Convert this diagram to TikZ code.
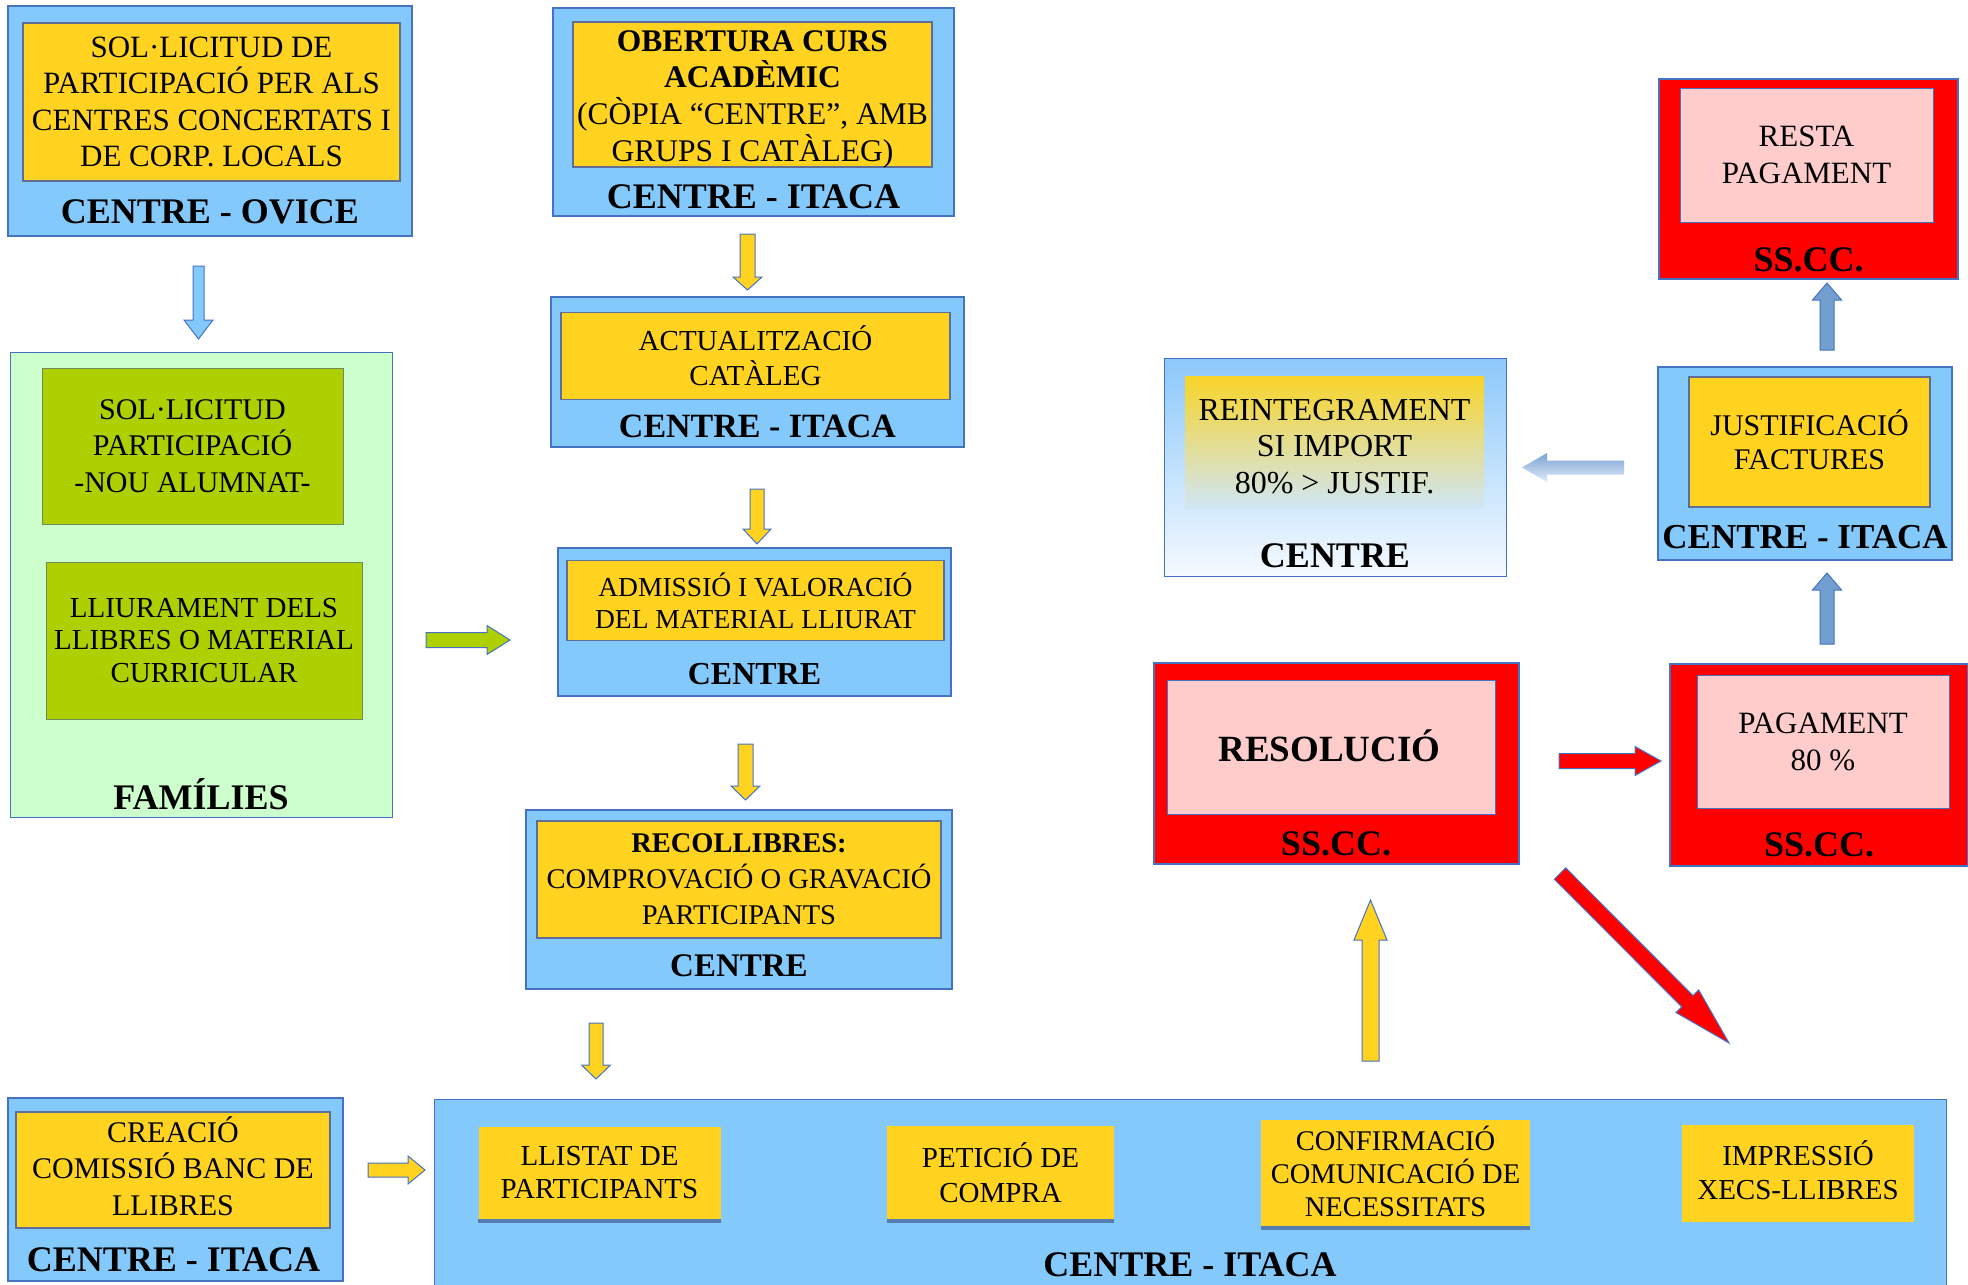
\documentclass[tikz,border=0pt]{standalone}
\usepackage{fontspec}
\setmainfont{Liberation Serif}
\usetikzlibrary{calc}
\definecolor{skyb}{RGB}{131,201,252}
\definecolor{edgeb}{RGB}{70,114,196}
\definecolor{gold}{RGB}{255,211,32}
\definecolor{goldedge}{RGB}{95,110,150}
\definecolor{famgreen}{RGB}{204,255,204}
\definecolor{lime}{RGB}{174,207,0}
\definecolor{limeedge}{RGB}{110,140,90}
\definecolor{redb}{RGB}{255,0,0}
\definecolor{pinkb}{RGB}{255,204,204}
\definecolor{steel}{RGB}{114,159,207}
\definecolor{shadowb}{RGB}{85,125,175}
\newcommand\barrow[6]{%
  \coordinate (ba-h) at ($(#3)!#6!(#2)$);
  \path[#1] ($(#2)!#4!90:(#3)$) -- ($(ba-h)!#4!90:(#3)$) -- ($(ba-h)!#5!90:(#3)$) -- (#3)
    -- ($(ba-h)!#5!-90:(#3)$) -- ($(ba-h)!#4!-90:(#3)$) -- ($(#2)!#4!-90:(#3)$) -- cycle;
}
\tikzset{
  sz/.style 2 args={minimum width=#1pt, minimum height=#2pt},
  f/.style 2 args={font=\fontsize{#1pt}{#2pt}\selectfont},
  outer/.style={draw=edgeb, line width=1.2pt, fill=skyb, inner sep=0pt},
  goldbox/.style={draw=goldedge, line width=1.2pt, fill=gold, inner sep=0pt, align=center},
  goldflat/.style={fill=gold, inner sep=0pt, align=center},
  limebox/.style={draw=limeedge, line width=1pt, fill=lime, inner sep=0pt, align=center},
  redbox/.style={draw=edgeb, line width=1.2pt, fill=redb, inner sep=0pt},
  pinkbox/.style={draw=edgeb, line width=1pt, fill=pinkb, inner sep=0pt, align=center},
  txt/.style={inner sep=0pt, align=center},
  lbl/.style={font=\bfseries\fontsize{#1pt}{#1pt}\selectfont, inner sep=0pt},
  yarr/.style={fill=gold, draw=edgeb, line width=1pt},
  garr/.style={fill=lime, draw=edgeb, line width=1pt},
  barr/.style={fill=skyb, draw=edgeb, line width=1pt},
  rarr/.style={fill=redb, draw=edgeb, line width=1pt},
  sarr/.style={fill=steel, draw=edgeb, line width=1pt},
  shadowline/.style={draw=shadowb, line width=4pt},
}
\begin{document}
\begin{tikzpicture}[x=1pt,y=-1pt]
\useasboundingbox (0,0) rectangle (1968,1285);
\fill[white] (0,0) rectangle (1968,1285);

% CENTRE - OVICE
\node[outer, sz={404}{230}] (ovice) at (210,121) {};
\node[goldbox, sz={377}{158}, f={31}{36.5}] (ovicein) at (211.5,102)
  {SOL·LICITUD DE\\PARTICIPACIÓ PER ALS\\CENTRES CONCERTATS I\\DE CORP. LOCALS};
\node[lbl=36] (ovicelbl) at (210,212) {CENTRE - OVICE};

% OBERTURA
\node[outer, sz={401}{208}] (obert) at (753.5,112) {};
\node[goldbox, sz={359}{145}] (obertin) at (752.5,94.5) {};
\node[txt, f={31.5}{36.7}] (obertxt) at (752.5,99)
  {\textbf{OBERTURA CURS}\\\textbf{ACADÈMIC}\\(CÒPIA “CENTRE”, AMB\\GRUPS I CATÀLEG)};
\node[lbl=36] (obertlbl) at (753.5,197) {CENTRE - ITACA};

% ACTUALITZACIO
\node[outer, sz={413}{150}] (actual) at (757.5,372) {};
\node[goldbox, sz={389}{87}, f={29}{35}] (actualin) at (755.5,356) {ACTUALITZACIÓ\\CATÀLEG};
\node[lbl=34] (actuallbl) at (757.5,426) {CENTRE - ITACA};

% ADMISSIO
\node[outer, sz={393}{148}] (admis) at (754.5,622) {};
\node[goldbox, sz={377}{80}, f={27.5}{32}] (admisin) at (755.5,600.5) {ADMISSIÓ I VALORACIÓ\\DEL MATERIAL LLIURAT};
\node[lbl=32] (admislbl) at (754.5,674) {CENTRE};

% RECOLLIBRES
\node[outer, sz={426}{179}] (recoll) at (739,899.5) {};
\node[goldbox, sz={404}{117}, f={28.5}{36}] (recollin) at (739,879.5)
  {\textbf{RECOLLIBRES:}\\COMPROVACIÓ O GRAVACIÓ\\PARTICIPANTS};
\node[lbl=33] (recolllbl) at (739,966) {CENTRE};

% FAMILIES
\node[draw=edgeb, line width=1pt, fill=famgreen, sz={382}{465}] (fam) at (201,584.5) {};
\node[limebox, sz={301}{156}, f={30}{36.5}] (sol) at (192.5,446) {SOL·LICITUD\\PARTICIPACIÓ\\-NOU ALUMNAT-};
\node[limebox, sz={316}{157}, f={29}{32.5}] (lliur) at (204,640.5) {LLIURAMENT DELS\\LLIBRES O MATERIAL\\CURRICULAR};
\node[lbl=36, anchor=base] (famlbl) at (201,809) {FAMÍLIES};

% REINTEGRAMENT
\node[draw=edgeb, line width=1pt, top color={rgb,255:red,140;green,200;blue,250}, bottom color={rgb,255:red,245;green,250;blue,255}, sz={342}{218}] (reint) at (1335,467) {};
\node[inner sep=0pt, sz={299}{132}, top color={rgb,255:red,248;green,212;blue,40}, middle color={rgb,255:red,214;green,216;blue,150}, bottom color={rgb,255:red,208;green,230;blue,245}] (reintin) at (1334.5,442) {};
\node[txt, f={32}{36.5}] (reinttxt) at (1334.5,446.5) {REINTEGRAMENT\\SI IMPORT\\80\% > JUSTIF.};
\node[lbl=36] (reintlbl) at (1335,556) {CENTRE};

% JUSTIFICACIO
\node[outer, sz={294}{193}] (justif) at (1805,463.5) {};
\node[goldbox, sz={241}{130}] (justifin) at (1809.5,442) {};
\node[txt, f={30}{34}] (justiftxt) at (1809.5,439.5) {JUSTIFICACIÓ\\FACTURES};
\node[lbl=35] (justiflbl) at (1805,537) {CENTRE - ITACA};

% RESTA PAGAMENT
\node[redbox, sz={299}{200}] (resta) at (1808.5,179) {};
\node[pinkbox, sz={253}{134}, f={31}{37}] (restain) at (1806.5,155) {RESTA\\PAGAMENT};
\node[lbl=36] (restalbl) at (1808.5,260) {SS.CC.};

% PAGAMENT 80
\node[redbox, sz={298}{202}] (pag) at (1819,765) {};
\node[pinkbox, sz={252}{133}, f={31}{37}] (pagin) at (1823,741.5) {PAGAMENT\\80 \%};
\node[lbl=36] (paglbl) at (1819,845) {SS.CC.};

% RESOLUCIO
\node[redbox, sz={365}{201}] (resol) at (1336.5,763.5) {};
\node[pinkbox, sz={328}{134}] (resolin) at (1331,747) {};
\node[lbl=37, anchor=base] (resoltxt) at (1329.5,761) {RESOLUCIÓ};
\node[lbl=36] (resollbl) at (1336,844) {SS.CC.};

% CREACIO
\node[outer, sz={335}{183}] (creacio) at (175.5,1189.5) {};
\node[goldbox, sz={314}{116}] (creacioin) at (173,1170) {};
\node[txt, f={30}{36.5}] (creaciotxt) at (173,1166) {CREACIÓ\\COMISSIÓ BANC DE\\LLIBRES};
\node[lbl=36] (creaciolbl) at (173.5,1260) {CENTRE - ITACA};

% BOTTOM CENTRE - ITACA
\node[outer, sz={1512}{192}, anchor=north west] (itaca) at (434,1099) {};
\node[lbl=36] (itacalbl) at (1190,1265) {CENTRE - ITACA};
\node[goldflat, sz={242}{92}, f={29}{33}] (llistat) at (599.5,1173) {LLISTAT DE\\PARTICIPANTS};
\draw[shadowline] ([yshift=-2pt]llistat.south west) -- ([yshift=-2pt]llistat.south east);
\node[goldflat, sz={227}{93}, f={29}{35}] (peticio) at (1000.5,1172.5) {PETICIÓ DE\\COMPRA};
\draw[shadowline] ([yshift=-2pt]peticio.south west) -- ([yshift=-2pt]peticio.south east);
\node[goldflat, sz={269}{106}] (confirm) at (1395.5,1173) {};
\node[txt, f={28.5}{33}] (confirmtxt) at (1395.5,1171) {CONFIRMACIÓ\\COMUNICACIÓ DE\\NECESSITATS};
\draw[shadowline] ([yshift=-2pt]confirm.south west) -- ([yshift=-2pt]confirm.south east);
\node[goldflat, sz={232}{97}] (impres) at (1798,1173.5) {};
\node[txt, f={29}{34}] (imprestxt) at (1798,1170) {IMPRESSIÓ\\XECS-LLIBRES};

% ARROWS
\coordinate (a1s) at (198.5,266); \coordinate (a1e) at (198.5,339);
\barrow{barr}{a1s}{a1e}{5.5pt}{14.5pt}{19pt}
\coordinate (a2s) at (747.5,234); \coordinate (a2e) at (747.5,290);
\barrow{yarr}{a2s}{a2e}{7.5pt}{14.5pt}{13pt}
\coordinate (a3s) at (757,489); \coordinate (a3e) at (757,544);
\barrow{yarr}{a3s}{a3e}{7pt}{14pt}{15pt}
\coordinate (a4s) at (745.5,744); \coordinate (a4e) at (745.5,800);
\barrow{yarr}{a4s}{a4e}{7.5pt}{14.5pt}{14pt}
\coordinate (a5s) at (596,1023); \coordinate (a5e) at (596,1079);
\barrow{yarr}{a5s}{a5e}{7pt}{14.5pt}{14pt}
\coordinate (a6s) at (426,640); \coordinate (a6e) at (510,640);
\barrow{garr}{a6s}{a6e}{7.5pt}{14.5pt}{23pt}
\coordinate (a7s) at (368,1170); \coordinate (a7e) at (425,1170);
\barrow{yarr}{a7s}{a7e}{7pt}{14pt}{17pt}
\coordinate (a8s) at (1370.5,1061); \coordinate (a8e) at (1370.5,900);
\barrow{yarr}{a8s}{a8e}{8.5pt}{16.5pt}{40pt}
\coordinate (a9s) at (1559,761); \coordinate (a9e) at (1661,761);
\barrow{rarr}{a9s}{a9e}{7.5pt}{14.5pt}{26pt}
\coordinate (a10s) at (1560,873.5); \coordinate (a10e) at (1729,1043);
\barrow{rarr}{a10s}{a10e}{8pt}{16pt}{59pt}
\coordinate (a11s) at (1827,644); \coordinate (a11e) at (1827,573);
\barrow{sarr}{a11s}{a11e}{7pt}{14.5pt}{17pt}
\coordinate (a12s) at (1827,350); \coordinate (a12e) at (1827,283);
\barrow{sarr}{a12s}{a12e}{7pt}{14.5pt}{17pt}
\coordinate (a13s) at (1624,467.5); \coordinate (a13e) at (1522,467.5);
\barrow{top color={rgb,255:red,120;green,162;blue,212}, bottom color={rgb,255:red,225;green,235;blue,248}, draw=none}{a13s}{a13e}{7pt}{14.5pt}{25pt}
\end{tikzpicture}
\end{document}
